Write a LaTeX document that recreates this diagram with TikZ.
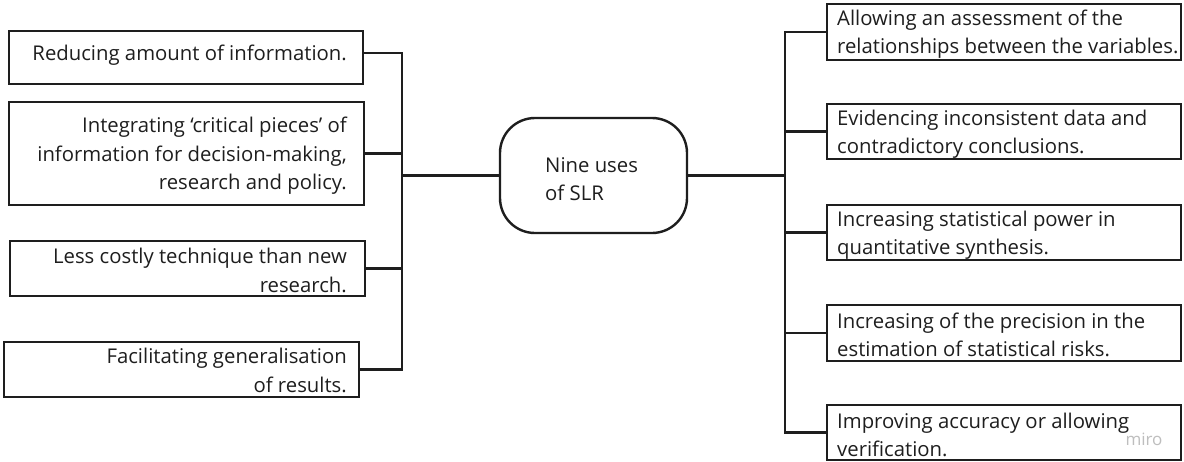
\documentclass[tikz,border=0pt]{standalone}
\usepackage{fontspec}
\setmainfont{Open Sans}
\usetikzlibrary{calc}
\definecolor{linecol}{RGB}{30,30,30}
\definecolor{txtcol}{RGB}{30,30,30}
\definecolor{wmcol}{RGB}{190,190,190}
\tikzset{
  boxnode/.style={draw=linecol, line width=2.4pt, fill=white, inner sep=0pt},
  txtnode/.style={inner sep=0pt, text=txtcol, font=\fontsize{20.3}{28.5}\selectfont},
  conn/.style={draw=linecol, line width=2.4pt, line join=miter},
}
\begin{document}
\begin{tikzpicture}[x=1pt,y=-1pt]
\useasboundingbox[fill=white] (0,0) rectangle (1184,461);

% left boxes
\node[boxnode, minimum width=354pt, minimum height=53pt] (l1) at (186,57.5) {};
\node[boxnode, minimum width=355pt, minimum height=103pt] (l2) at (186.5,153.5) {};
\node[boxnode, minimum width=355pt, minimum height=55pt] (l3) at (187.5,268.5) {};
\node[boxnode, minimum width=355pt, minimum height=55pt] (l4) at (181.5,369.5) {};

\node[txtnode, anchor=east, align=right] (t1) at (347,55) {Reducing amount of information.};
\node[txtnode, anchor=east, align=right] (t2) at (347,156) {Integrating ‘critical pieces’ of\\information for decision-making,\\research and policy.};
\node[txtnode, anchor=east, align=right] (t3) at (347,270.5) {Less costly technique than new\\research.};
\node[txtnode, anchor=east, align=right] (t4) at (347,370.5) {Facilitating generalisation\\of results.};

% centre
\node[boxnode, rounded corners=35pt, minimum width=187pt, minimum height=115pt] (c) at (593.5,175.5) {};
\node[txtnode, anchor=west, align=left] (tc) at (545,179) {Nine uses\\of SLR};

% right boxes
\node[boxnode, minimum width=354pt, minimum height=56pt] (r1) at (1004,32) {};
\node[boxnode, minimum width=354pt, minimum height=55pt] (r2) at (1004,131.5) {};
\node[boxnode, minimum width=354pt, minimum height=55pt] (r3) at (1004,232.5) {};
\node[boxnode, minimum width=354pt, minimum height=56pt] (r4) at (1004,333) {};
\node[boxnode, minimum width=354pt, minimum height=55pt] (r5) at (1004,432.5) {};

\node[txtnode, anchor=west, align=left] (s1) at (837,34) {Allowing an assessment of the\\relationships between the variables.};
\node[txtnode, anchor=west, align=left] (s2) at (837,134) {Evidencing inconsistent data and\\contradictory conclusions.};
\node[txtnode, anchor=west, align=left] (s3) at (837,235) {Increasing statistical power in\\quantitative synthesis.};
\node[txtnode, anchor=west, align=left] (s4) at (837,335) {Increasing of the precision in the\\estimation of statistical risks.};
\node[txtnode, anchor=west, align=left] (s5) at (837,435) {Improving accuracy or allowing\\verification.};

\node[inner sep=0pt, text=wmcol, font=\fontsize{17}{19}\selectfont] (wm) at (1144,439) {miro};

% connectors
\coordinate (lb) at (402,369.5);
\coordinate (rb) at (785,432.5);
\draw[conn] ([yshift=4.5pt]l1.east) -| (lb) -- (l4.east);
\draw[conn] (l2.east) -- (l2.east -| lb);
\draw[conn] (l3.east) -- (l3.east -| lb);
\draw[conn] (c.west) -- (c.west -| lb);

\draw[conn] (r1.west) -| (rb) -- (r5.west);
\draw[conn] (r2.west) -- (r2.west -| rb);
\draw[conn] (r3.west) -- (r3.west -| rb);
\draw[conn] (r4.west) -- (r4.west -| rb);
\draw[conn] (c.east) -- (c.east -| rb);
\end{tikzpicture}
\end{document}
